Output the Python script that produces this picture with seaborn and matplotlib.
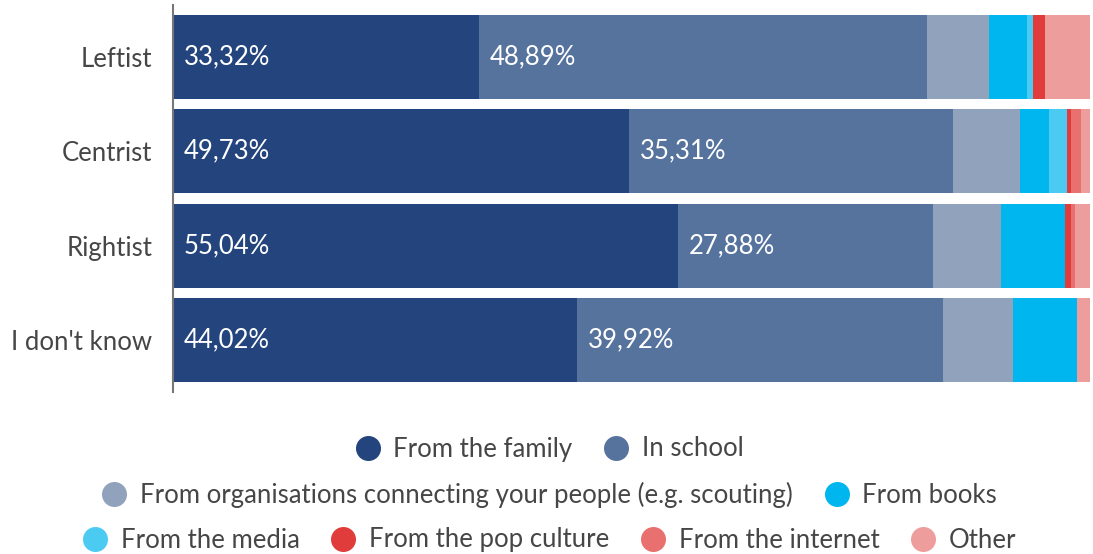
import numpy as np
import pandas as pd
import matplotlib
matplotlib.use("Agg")
import matplotlib.pyplot as plt
from matplotlib.lines import Line2D
import seaborn as sns

categories = ["Leftist", "Centrist", "Rightist", "I don't know"]
series_names = ["From the family", "In school",
                "From organisations connecting your people (e.g. scouting)",
                "From books", "From the media", "From the pop culture",
                "From the internet", "Other"]
family = [33.32, 49.73, 55.04, 44.02]
school = [48.89, 35.31, 27.88, 39.92]
organisations = [6.76, 7.30, 7.42, 7.70]
books = [4.14, 3.20, 6.98, 6.90]
media = [0.65, 1.96, 0.00, 0.00]
pop_culture = [1.31, 0.44, 0.65, 0.00]
internet = [0.00, 1.09, 0.44, 0.00]
other = [4.91, 0.97, 1.59, 1.46]
colors = ["#23447c", "#56739e", "#91a2bd", "#00b6ef",
          "#4ccbf2", "#e03c3c", "#e8706e", "#ee9d9d"]

sns.set_style("white")
plt.rcParams['font.family'] = ['Lato', 'DejaVu Sans']

FS = 18.5
TXT = "#464646"

values = np.array([family, school, organisations, books, media,
                   pop_culture, internet, other]).T
cum = np.cumsum(values, axis=1)

fig = plt.figure(figsize=(10.93, 5.54), dpi=100)
ax = fig.add_axes([173/1093, 1-392/554, (1090-173)/1093, (392-5)/554])

for i in reversed(range(len(series_names))):
    df = pd.DataFrame({"cat": categories, "val": cum[:, i]})
    sns.barplot(data=df, x="val", y="cat", orient="h", color=colors[i],
                saturation=1, width=0.89, ax=ax, linewidth=0)

ax.set_xlim(0, 100)
ax.set_ylim(3.55, -0.55)
ax.set_xlabel("")
ax.set_ylabel("")
ax.set_xticks([])
for s in ["top", "right", "bottom"]:
    ax.spines[s].set_visible(False)
ax.spines["left"].set_color("#777777")
ax.spines["left"].set_linewidth(1.5)
ax.tick_params(axis="y", length=0, pad=15, labelsize=FS, labelcolor=TXT)

for r in range(len(categories)):
    ax.text(1.2, r, f"{family[r]:.2f}%".replace(".", ","), color="white",
            va="center", ha="left", fontsize=FS)
    ax.text(family[r] + 1.2, r, f"{school[r]:.2f}%".replace(".", ","),
            color="white", va="center", ha="left", fontsize=FS)

rows = [[0, 1], [2, 3], [4, 5, 6, 7]]
ys = [449, 495, 540]
for row, yy in zip(rows, ys):
    handles = [Line2D([0], [0], marker="o", linestyle="", markersize=18,
                      markerfacecolor=colors[i], markeredgewidth=0)
               for i in row]
    leg = fig.legend(handles, [series_names[i] for i in row], loc="center",
                     bbox_to_anchor=(0.502, 1 - yy/554), ncol=len(row),
                     frameon=False, fontsize=FS, handletextpad=0.45,
                     columnspacing=1.15, handlelength=1.1, borderpad=0)
    for t in leg.get_texts():
        t.set_color(TXT)

fig.savefig("out.png", dpi=100)
